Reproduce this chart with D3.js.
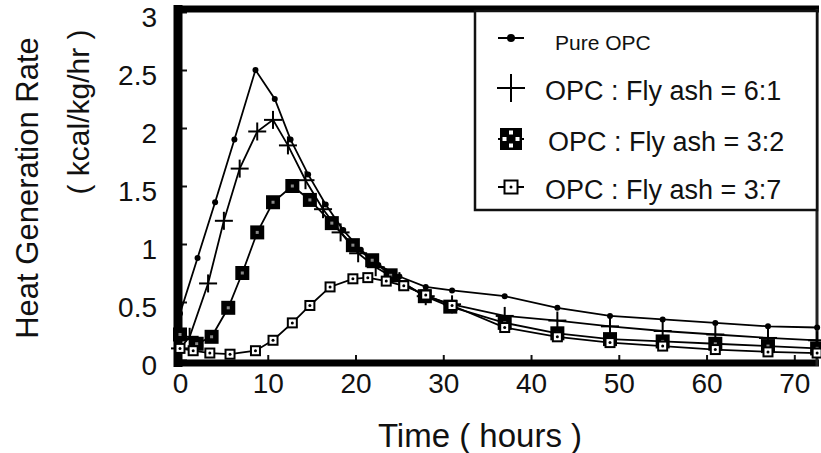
<!DOCTYPE html>
<html>
<head>
<meta charset="utf-8">
<script src="https://cdn.jsdelivr.net/npm/d3@7"></script>
<style>
  body { margin: 0; background: #fff; }
  text { font-family: "Liberation Sans", Arial, sans-serif; fill: #111; }
</style>
</head>
<body>
<div id="chart"></div>
<script>
// data (time in hours, rate in kcal/kg/hr)
var pureTime = [0, 2, 4, 6.2, 8.6, 10.8, 12.6, 14.6, 16.6, 18.6, 20.6, 22.6, 25, 28, 31, 37, 43, 49, 55, 61, 67, 72.6];
var pureRate = [0.4, 0.88, 1.36, 1.9, 2.5, 2.25, 1.9, 1.6, 1.34, 1.12, 0.95, 0.82, 0.72, 0.63, 0.6, 0.55, 0.45, 0.38, 0.35, 0.32, 0.29, 0.28];

var fa61Time = [0, 1.1, 3.2, 5, 6.8, 8.8, 10.6, 12.3, 14.3, 16.3, 18.3, 20.3, 22.3, 25, 28, 31, 37, 43, 49, 55, 61, 67, 72.6];
var fa61Rate = [0.1, 0.2, 0.66, 1.2, 1.65, 1.97, 2.07, 1.85, 1.55, 1.3, 1.1, 0.92, 0.8, 0.68, 0.55, 0.48, 0.38, 0.34, 0.29, 0.25, 0.22, 0.19, 0.17];

var fa32Time = [0, 1.9, 3.6, 5.5, 7.1, 8.8, 10.6, 12.8, 14.8, 17.3, 19.7, 21.9, 24, 27.9, 30.8, 37, 43, 49, 55, 61, 67, 72.6];
var fa32Rate = [0.22, 0.14, 0.2, 0.45, 0.75, 1.1, 1.36, 1.5, 1.38, 1.18, 0.99, 0.86, 0.73, 0.55, 0.46, 0.32, 0.23, 0.18, 0.16, 0.14, 0.12, 0.1];

var fa37Time = [0, 1.5, 3.4, 5.7, 8.6, 10.6, 12.8, 14.8, 17.1, 19.7, 21.4, 23.5, 25.5, 28, 31, 37, 43, 49, 55, 61, 67, 72.6];
var fa37Rate = [0.1, 0.08, 0.06, 0.05, 0.08, 0.17, 0.32, 0.47, 0.63, 0.7, 0.71, 0.68, 0.64, 0.56, 0.47, 0.28, 0.2, 0.15, 0.12, 0.09, 0.07, 0.06];

var seriesNames = ["Pure OPC", "OPC : Fly ash = 6:1", "OPC : Fly ash = 3:2", "OPC : Fly ash = 3:7"];
var seriesMarks = ["dot", "plus", "fillsq", "opensq"];

var xTicks = [0, 10, 20, 30, 40, 50, 60, 70];
var yTicks = [0, 0.5, 1, 1.5, 2, 2.5, 3];

var series = [
  {name: seriesNames[0], mark: seriesMarks[0], t: pureTime, v: pureRate},
  {name: seriesNames[1], mark: seriesMarks[1], t: fa61Time, v: fa61Rate},
  {name: seriesNames[2], mark: seriesMarks[2], t: fa32Time, v: fa32Rate},
  {name: seriesNames[3], mark: seriesMarks[3], t: fa37Time, v: fa37Rate}
];

var W = 821, H = 453;
var svg = d3.select("#chart").append("svg")
    .attr("width", W)
    .attr("height", H);

var x = d3.scaleLinear().domain([0, 72.7]).range([180, 818]);
var y = d3.scaleLinear().domain([0, 3]).range([360, 12]);

// axes (ticks pointing into the plot)
var yAxis = svg.append("g")
    .attr("transform", "translate(180,0)")
    .call(d3.axisLeft(y).tickValues(yTicks).tickSize(-7).tickPadding(23)
      .tickFormat(function(d) { return String(d); }));
yAxis.select(".domain").remove();
yAxis.selectAll("line").attr("stroke", "#111").attr("stroke-width", 2);
yAxis.selectAll("text")
    .attr("font-size", 28)
    .attr("transform", "translate(0,6)");

var xAxis = svg.append("g")
    .attr("transform", "translate(0,360)")
    .call(d3.axisBottom(x).tickValues(xTicks).tickSize(-5).tickPadding(13));
xAxis.select(".domain").remove();
xAxis.selectAll("line").attr("stroke", "#111").attr("stroke-width", 2);
xAxis.selectAll("text").attr("font-size", 28);

// frame
svg.append("line").attr("x1", 178).attr("x2", 178).attr("y1", 5).attr("y2", 367)
    .attr("stroke", "#000").attr("stroke-width", 9);
svg.append("line").attr("x1", 174).attr("x2", 819).attr("y1", 9).attr("y2", 9)
    .attr("stroke", "#000").attr("stroke-width", 7);
svg.append("line").attr("x1", 174).attr("x2", 819).attr("y1", 363).attr("y2", 363)
    .attr("stroke", "#000").attr("stroke-width", 7);
svg.append("line").attr("x1", 817).attr("x2", 817).attr("y1", 9).attr("y2", 366)
    .attr("stroke", "#222").attr("stroke-width", 3);

var line = d3.line()
    .x(function(d) { return x(d[0]); })
    .y(function(d) { return y(d[1]); });

// marker shapes; legend ones are drawn larger
function drawMark(g, type, cx, cy, big) {
  if (type === "dot") {
    g.append("circle").attr("cx", cx).attr("cy", cy).attr("r", big ? 4 : 3).attr("fill", "#000");
  } else if (type === "plus") {
    var a = big ? 14 : 9;
    g.append("line").attr("x1", cx - a).attr("x2", cx + a).attr("y1", cy).attr("y2", cy)
      .attr("stroke", "#000").attr("stroke-width", 2);
    g.append("line").attr("x1", cx).attr("x2", cx).attr("y1", cy - a).attr("y2", cy + a)
      .attr("stroke", "#000").attr("stroke-width", 2);
  } else if (type === "fillsq") {
    var h = big ? 11 : 7;
    g.append("rect").attr("x", cx - h).attr("y", cy - h).attr("width", 2 * h).attr("height", 2 * h)
      .attr("fill", "#000");
    if (big) {
      var c = 4;
      g.append("rect").attr("x", cx - h + 2.5).attr("y", cy - c / 2).attr("width", c).attr("height", c).attr("fill", "#fff");
      g.append("rect").attr("x", cx + h - 6.5).attr("y", cy - c / 2).attr("width", c).attr("height", c).attr("fill", "#fff");
      g.append("rect").attr("x", cx - c / 2).attr("y", cy - h + 2.5).attr("width", c).attr("height", c).attr("fill", "#fff");
      g.append("rect").attr("x", cx - c / 2).attr("y", cy + h - 6.5).attr("width", c).attr("height", c).attr("fill", "#fff");
    } else {
      g.append("rect").attr("x", cx - 1.5).attr("y", cy - 1.5).attr("width", 3).attr("height", 3).attr("fill", "#888");
    }
  } else if (type === "opensq") {
    var q = big ? 6.5 : 4.5;
    g.append("rect").attr("x", cx - q).attr("y", cy - q).attr("width", 2 * q).attr("height", 2 * q)
      .attr("fill", "#fff").attr("stroke", "#000").attr("stroke-width", 2);
    g.append("circle").attr("cx", cx).attr("cy", cy).attr("r", 1.5).attr("fill", "#000");
  }
}

// lines and markers
series.forEach(function(s) {
  var pts = d3.zip(s.t, s.v);
  svg.append("path")
      .datum(pts)
      .attr("fill", "none")
      .attr("stroke", "#000")
      .attr("stroke-width", 1.8)
      .attr("d", line);
  var g = svg.append("g");
  pts.forEach(function(p) { drawMark(g, s.mark, x(p[0]), y(p[1]), false); });
});

// legend
var lg = svg.append("g");
lg.append("rect").attr("x", 475).attr("y", 11).attr("width", 342).attr("height", 199)
    .attr("fill", "#fff").attr("stroke", "#111").attr("stroke-width", 2.5);
var legY = [38, 88, 139, 187];
var legTextX = [555, 545, 548, 545];
series.forEach(function(s, i) {
  var cy = legY[i];
  lg.append("line").attr("x1", 498).attr("x2", 524).attr("y1", cy).attr("y2", cy)
    .attr("stroke", "#000").attr("stroke-width", 2);
  drawMark(lg, s.mark, 511, cy, true);
  lg.append("text")
      .attr("x", legTextX[i])
      .attr("y", cy + (i === 0 ? 4 : 2))
      .attr("dy", "0.36em")
      .attr("font-size", i === 0 ? 21 : 27)
      .text(s.name);
});

// axis titles
svg.append("text")
    .attr("x", 480).attr("y", 447)
    .attr("text-anchor", "middle")
    .attr("font-size", 33)
    .text("Time ( hours )");
svg.append("text")
    .attr("transform", "translate(38,188)rotate(-90)")
    .attr("text-anchor", "middle")
    .attr("font-size", 31)
    .text("Heat Generation Rate");
svg.append("text")
    .attr("transform", "translate(89,112)rotate(-90)")
    .attr("text-anchor", "middle")
    .attr("font-size", 30)
    .text("( kcal/kg/hr )");
</script>
</body>
</html>
